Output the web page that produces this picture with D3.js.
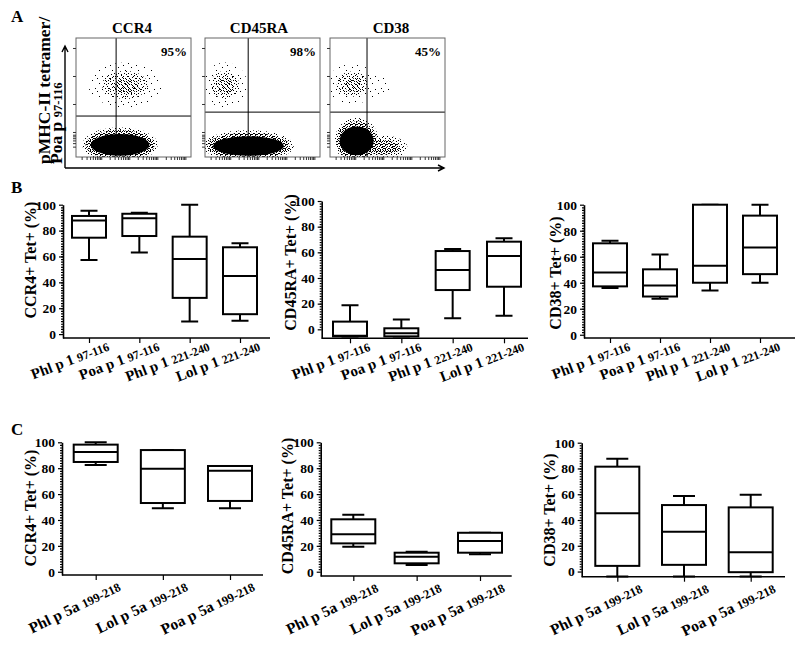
<!DOCTYPE html>
<html>
<head>
<meta charset="utf-8">
<script src="https://cdn.jsdelivr.net/npm/d3@7"></script>
<style>
  body { margin: 0; background: #fff; }
  text { font-family: "Liberation Serif", "Times New Roman", serif; font-weight: bold; fill: #000; }
</style>
</head>
<body>
<div id="fig"></div>
<script>
// ---- panel A: tetramer vs marker dot plots (positions in log decades)
const flowMarkers = ["CCR4", "CD45RA", "CD38"],
  flowPercents = ["95%", "98%", "45%"],
  flowGateX = [1.53, 1.64, 1.42],
  flowGateY = [1.57, 1.71, 1.71],
  // [x, y, rx, ry] of each population
  negPop = [[1.67, 0.54, 1.14, 0.43], [1.65, 0.5, 1.37, 0.39], [1.05, 0.68, 0.66, 0.57]],
  negTail = [null, null, [1.96, 0.45, 0.75, 0.33]],
  posPop = [[1.85, 2.68, 0.82, 0.5], [0.81, 2.68, 0.5, 0.5], [0.89, 2.71, 0.55, 0.45]],
  posTail = [null, null, [1.75, 2.62, 0.5, 0.4]];

// ---- panel B: peptide 1 epitopes, [min, q1, median, q3, max]
const pepB = ["Phl p 1", "Poa p 1", "Phl p 1", "Lol p 1"],
  resB = ["97-116", "97-116", "221-240", "221-240"],
  ccr4B = [[57.3, 74.5, 87.7, 91.3, 95.4], [63, 75.8, 89.5, 93, 93.8], [9.7, 28, 58.1, 75.3, 100], [10.3, 15.4, 45, 67.1, 70.2]],
  cd45raB = [[-5.5, -5.5, -5, 6, 18.8], [-5.5, -5.5, -3, 0.8, 7.7], [8.6, 30.6, 46.2, 61, 62.6], [10.6, 33.2, 57.1, 68.3, 70.9]],
  cd38B = [[35.9, 37.2, 47.9, 70.3, 72.3], [27.6, 29.4, 37.8, 50.3, 61.8], [34, 40, 53, 100, 100], [40, 46.6, 67, 91.6, 100]];

// ---- panel C: Phl p 5a family
const pepC = ["Phl p 5a", "Lol p 5a", "Poa p 5a"],
  resC = ["199-218", "199-218", "199-218"],
  ccr4C = [[82.5, 84.8, 92.5, 98.2, 100], [49, 53.1, 79.6, 94, 94], [49, 54.7, 78.1, 81.7, 81.7]],
  cd45raC = [[19.3, 21.9, 28.9, 40.5, 44], [5.2, 6.5, 11.6, 14.7, 15.5], [13.5, 14.7, 23.7, 30.1, 30.1]],
  cd38C = [[-3.9, 4.4, 45.3, 81.4, 87.6], [-3.9, 5.2, 30.9, 51.6, 58.6], [-3.9, -0.5, 15, 49.8, 59.6]];

const yTicks = [0, 20, 40, 60, 80, 100];

const svg = d3.select('#fig').append('svg')
  .attr('width', 800)
  .attr('height', 645);

// stipple patterns for the dot clouds
const defs = svg.append('defs');
function pattern(id, size, dots) {
  const p = defs.append('pattern').attr('id', id)
    .attr('patternUnits', 'userSpaceOnUse')
    .attr('width', size).attr('height', size);
  dots.forEach(d => p.append('rect').attr('x', d[0]).attr('y', d[1]).attr('width', 1).attr('height', 1).attr('fill', '#000'));
}
pattern('dense', 5, [[0, 0], [2, 1], [4, 1], [1, 2], [3, 3], [0, 4], [2, 4], [4, 3]]);
pattern('speck', 10, [[0, 1], [3, 0], [6, 1], [8, 3], [1, 4], [4, 3], [7, 6], [9, 8], [2, 7], [5, 8], [0, 9], [6, 4], [3, 6], [8, 0]]);
pattern('sparse', 13, [[1, 2], [8, 5], [4, 10], [11, 11], [6, 0]]);

function letter(t, x, y) {
  svg.append('text').attr('x', x).attr('y', y).attr('font-size', 17).text(t);
}

// ================= A =================
letter('A', 11, 22);
const flowX0 = [76, 205, 330], flowW = 115, flowTop = 38, flowBot = 157;

flowMarkers.forEach((m, i) => {
  const x0 = flowX0[i],
    xd = d3.scaleLinear().domain([0.1, 4.2]).range([x0, x0 + flowW]),
    yd = d3.scaleLinear().domain([0.107, 4.357]).range([flowBot, flowTop]),
    xl = d3.scaleLog().domain([Math.pow(10, 0.1), Math.pow(10, 4.2)]).range([x0, x0 + flowW]),
    yl = d3.scaleLog().domain([Math.pow(10, 0.107), Math.pow(10, 4.357)]).range([flowBot, flowTop]);
  const g = svg.append('g');
  const clip = 'clipA' + i;
  defs.append('clipPath').attr('id', clip).append('rect')
    .attr('x', x0).attr('y', flowTop).attr('width', flowW).attr('height', flowBot - flowTop);
  const cloud = g.append('g').attr('clip-path', `url(#${clip})`);

  const ell = (d, sx, sy, fill) => cloud.append('ellipse')
    .attr('cx', xd(d[0])).attr('cy', yd(d[1]))
    .attr('rx', xd(d[0] + d[2] * sx) - xd(d[0]))
    .attr('ry', yd(d[1]) - yd(d[1] + d[3] * sy))
    .attr('fill', fill);

  if (negTail[i]) { ell(negTail[i], 1.2, 1.3, 'url(#speck)'); ell(negTail[i], 0.85, 0.8, 'url(#dense)'); }
  ell(negPop[i], 1.18, 1.45, 'url(#speck)');
  ell(negPop[i], 1.08, 1.22, 'url(#dense)');
  ell(negPop[i], 0.92, 0.9, '#000');
  ell(posPop[i], 1.6, 1.6, 'url(#sparse)');
  if (posTail[i]) ell(posTail[i], 1, 1, 'url(#sparse)');
  ell(posPop[i], 1.0, 1.0, 'url(#speck)');
  ell(posPop[i], 0.55, 0.55, 'url(#speck)').attr('transform', 'translate(1,1)');

  // quadrant gates
  g.append('line').attr('x1', xd(flowGateX[i])).attr('x2', xd(flowGateX[i]))
    .attr('y1', flowTop).attr('y2', flowBot).attr('stroke', '#000').attr('stroke-width', 1);
  g.append('line').attr('x1', x0).attr('x2', x0 + flowW)
    .attr('y1', yd(flowGateY[i])).attr('y2', yd(flowGateY[i])).attr('stroke', '#000').attr('stroke-width', 1);

  g.append('rect').attr('x', x0).attr('y', flowTop).attr('width', flowW).attr('height', flowBot - flowTop)
    .attr('fill', 'none').attr('stroke', '#666').attr('stroke-width', 1);

  g.append('g').attr('transform', `translate(${x0},0)`)
    .call(d3.axisLeft(yl).tickValues([3, 4, 5, 6, 7, 8, 10, 100, 1000, 10000]).tickSize(3).tickFormat(''))
    .call(a => a.select('.domain').remove());
  g.append('g').attr('transform', `translate(0,${flowBot})`)
    .call(d3.axisBottom(xl).tickSize(3).tickFormat(''))
    .call(a => a.select('.domain').remove());
  g.selectAll('.tick line').attr('stroke', '#333');

  svg.append('text').attr('x', [132, 259, 391][i]).attr('y', 33)
    .attr('text-anchor', 'middle').attr('font-size', 15).text(m);
  svg.append('text').attr('x', x0 + flowW - 4).attr('y', 56)
    .attr('text-anchor', 'end').attr('font-size', 13).text(flowPercents[i]);
});

// axis arrows of panel A
svg.append('path').attr('d', 'M65,168V46M62,52L65,46L68,52M65,168H444M438,165L444,168L438,171')
  .attr('fill', 'none').attr('stroke', '#000').attr('stroke-width', 1.4);
const aTitle = svg.append('g').attr('font-size', 17.5);
aTitle.append('text').attr('transform', 'translate(50,164) rotate(-90)').text('pMHC-II tetramer/');
const aT2 = aTitle.append('text').attr('transform', 'translate(62,164) rotate(-90)');
aT2.append('tspan').text('Poa p ');
aT2.append('tspan').attr('font-size', 12.5).text('97-116');

// ================= box plots =================
function boxPanel(p, peps, res, stats, title) {
  const g = svg.append('g');
  const y = d3.scaleLinear().domain([p.ymin, 100]).range([p.yBot, p.yTop]);
  const x = d3.scalePoint().domain(d3.range(peps.length)).range([p.t0, p.t1]);

  // minor ticks
  g.append('g').attr('transform', `translate(${p.x0},0)`)
    .call(d3.axisLeft(y).tickValues(d3.range(2, 100, 2)).tickSize(2).tickFormat(''))
    .call(a => a.select('.domain').remove());
  const ya = g.append('g').attr('transform', `translate(${p.x0},0)`)
    .call(d3.axisLeft(y).tickValues(yTicks).tickSize(4).tickPadding(3).tickSizeOuter(0));
  ya.attr('font-size', 13.5).attr('font-family', null);
  ya.select('.domain').attr('stroke-width', 1.6);

  g.append('line').attr('x1', p.x0).attr('x2', p.x1).attr('y1', p.yBot).attr('y2', p.yBot)
    .attr('stroke', '#000').attr('stroke-width', 1.6);
  g.append('g').attr('transform', `translate(0,${p.yBot})`)
    .call(d3.axisBottom(x).tickSize(5).tickFormat(''))
    .call(a => a.select('.domain').remove());
  g.selectAll('.tick line').attr('stroke-width', 1.2);

  const hw = p.bw / 2;
  const box = g.selectAll('.box').data(stats).enter().append('g')
    .attr('fill', 'none').attr('stroke', '#000').attr('stroke-width', 2);
  box.append('path').attr('d', (d, i) => {
    const cx = x(i);
    return `M${cx},${y(d[0])}V${y(d[1])}M${cx},${y(d[3])}V${y(d[4])}` +
      `M${cx - hw / 2},${y(d[0])}H${cx + hw / 2}M${cx - hw / 2},${y(d[4])}H${cx + hw / 2}`;
  });
  box.append('rect')
    .attr('x', (d, i) => x(i) - hw).attr('width', p.bw)
    .attr('y', d => y(d[3])).attr('height', d => y(d[1]) - y(d[3]))
    .attr('fill', '#fff');
  box.append('line')
    .attr('x1', (d, i) => x(i) - hw).attr('x2', (d, i) => x(i) + hw)
    .attr('y1', d => y(d[2])).attr('y2', d => y(d[2]));

  peps.forEach((pep, i) => {
    const t = g.append('text').attr('text-anchor', 'end')
      .attr('transform', `translate(${x(i) + p.ldx},${p.yBot + p.ldy}) rotate(${-p.ang})`)
      .attr('font-size', p.lfs);
    t.append('tspan').text(pep + ' ');
    t.append('tspan').attr('font-size', p.lfs - 3).text(res[i]);
  });

  g.append('text').attr('transform', `translate(${p.tx},${p.ty}) rotate(-90)`)
    .attr('text-anchor', 'middle').attr('font-size', 16).text(title);
}

letter('B', 11, 193);
boxPanel({ x0: 63, x1: 270, t0: 89, t1: 240, yTop: 204.7, yBot: 338, ymin: -3, bw: 34, tx: 36, ty: 260, ldx: 21, ldy: 12, ang: 21, lfs: 15 },
  pepB, resB, ccr4B, 'CCR4+ Tet+ (%)');
boxPanel({ x0: 321.7, x1: 528, t0: 350, t1: 504, yTop: 201, yBot: 338.3, ymin: -7, bw: 34, tx: 295.5, ty: 262.5, ldx: 21, ldy: 12, ang: 21, lfs: 15 },
  pepB, resB, cd45raB, 'CD45RA+ Tet+ (%)');
boxPanel({ x0: 584, x1: 795, t0: 610, t1: 760, yTop: 204.7, yBot: 338, ymin: -2.5, bw: 34, tx: 561, ty: 273, ldx: 21, ldy: 12, ang: 21, lfs: 15 },
  pepB, resB, cd38B, 'CD38+ Tet+ (%)');

letter('C', 11, 435);
boxPanel({ x0: 62, x1: 263, t0: 95.7, t1: 230, yTop: 442.3, yBot: 575, ymin: -2.5, bw: 44, tx: 36, ty: 508, ldx: 26, ldy: 15, ang: 26, lfs: 15.5 },
  pepC, resC, ccr4C, 'CCR4+ Tet+ (%)');
boxPanel({ x0: 320.7, x1: 511.7, t0: 353.3, t1: 480, yTop: 442.3, yBot: 576, ymin: -3.3, bw: 44, tx: 293, ty: 506, ldx: 26, ldy: 15, ang: 26, lfs: 15.5 },
  pepC, resC, cd45raC, 'CD45RA+ Tet+ (%)');
boxPanel({ x0: 581.7, x1: 785, t0: 617.3, t1: 750.7, yTop: 442.7, yBot: 576.7, ymin: -4, bw: 44, tx: 555, ty: 510, ldx: 26, ldy: 15, ang: 26, lfs: 15.5 },
  pepC, resC, cd38C, 'CD38+ Tet+ (%)');
</script>
</body>
</html>
